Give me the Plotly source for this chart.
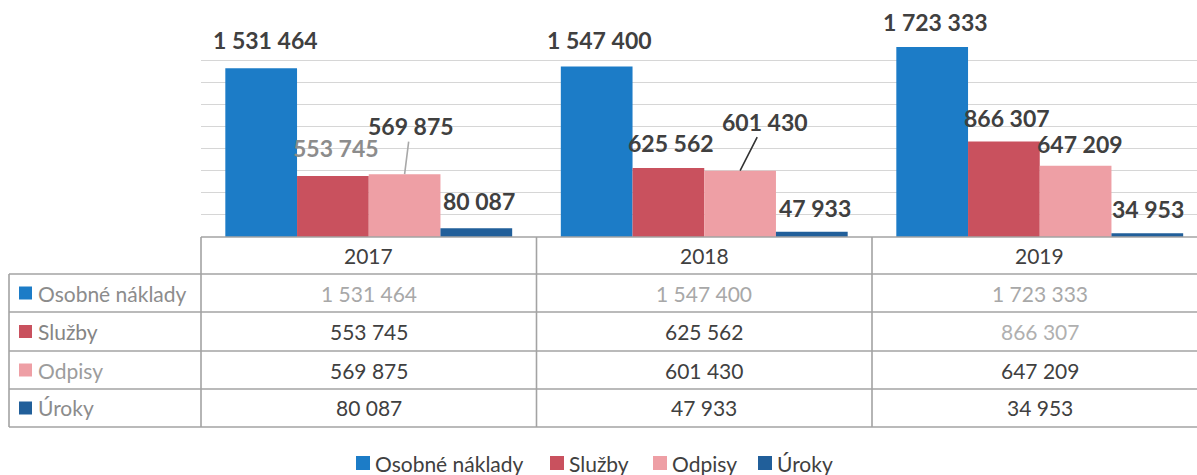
import plotly.graph_objects as go

# ---------------- data ----------------
years = ["2017", "2018", "2019"]
series = ["Osobné náklady", "Služby", "Odpisy", "Úroky"]
osobne = [1531464, 1547400, 1723333]
sluzby = [553745, 625562, 866307]
odpisy = [569875, 601430, 647209]
uroky = [80087, 47933, 34953]
values = [osobne, sluzby, odpisy, uroky]

# ---------------- styles ----------------
bar_colors = ["#1C7CC7", "#C9515E", "#EE9FA5", "#215F9A"]
label_font = "Lato"
# label offsets in pixels from bar top centre (dx, dy; dy<0 = above)
label_off = [
    [(4, -28), (3, -26), (3, -25)],
    [(3, -28), (3, -25), (3, -24)],
    [(6, -48), (25, -49), (4, -22)],
    [(3, -27), (3, -24), (1, -24)],
]
label_arrow = [
    [False, False, False],
    [False, False, False],
    [True, True, False],
    [False, False, False],
]
arrow_colors = [[None] * 3, [None] * 3, ["#A8A8A8", "#333333", None], [None] * 3]
label_colors = [
    ["#404040"] * 3,
    ["#8C8C8C", "#404040", "#404040"],
    ["#404040"] * 3,
    ["#404040"] * 3,
]
table_colors = [
    ["#A8A8A8"] * 3,
    ["#404040", "#404040", "#B0B0B0"],
    ["#404040"] * 3,
    ["#404040"] * 3,
]
rowlabel_colors = ["#8C8C8C", "#858585", "#9C9C9C", "#8C8C8C"]

W, H = 1197, 475
PL, PW, PH = 201, 996, 237        # plot area (px)
CAT_PX = 335.5
BARGAP = 0.145
XMIN = -0.5
XMAX = XMIN + PW / CAT_PX
YMAX = 2150000


def fmt(v):
    return f"{v:,}".replace(",", " ")


def pxx(x):
    return (x - PL) / PW


def pxy(y):
    return (PH - y) / PH


def cat_paper(c):
    return (c - XMIN) / (XMAX - XMIN)


fig = go.Figure()
cats = list(range(len(years)))
for s, name in enumerate(series):
    fig.add_trace(go.Bar(
        x=cats, y=values[s], name=name,
        marker=dict(color=bar_colors[s], line=dict(width=0)),
        showlegend=False,
    ))

annotations = []
shapes = []

# bar data labels
bw = (1 - BARGAP) / len(series)
for s in range(len(series)):
    for i in range(len(years)):
        xc = i + (s - (len(series) - 1) / 2) * bw
        dx, dy = label_off[s][i]
        common = dict(
            x=xc, y=values[s][i], xref="x", yref="y",
            text=fmt(values[s][i]),
            font=dict(family=label_font, size=23, color=label_colors[s][i], weight="bold"),
        )
        if label_arrow[s][i]:
            annotations.append(dict(
                **common, showarrow=True, ax=dx, ay=dy, arrowhead=0,
                arrowwidth=1.6, arrowcolor=arrow_colors[s][i], standoff=0,
            ))
        else:
            annotations.append(dict(
                **common, showarrow=False, xshift=dx, yshift=-dy,
                xanchor="center", yanchor="middle",
            ))

# ---------------- data table ----------------
row_edges = [237, 274, 312, 351, 389, 427]
LINE = dict(color="#A3A3A3", width=1.6)
left_px = 9
right_paper = pxx(W)
# horizontal lines
shapes.append(dict(type="line", xref="paper", yref="paper",
                   x0=cat_paper(-0.5), x1=right_paper, y0=pxy(row_edges[0]), y1=pxy(row_edges[0]),
                   line=LINE))
for ye in row_edges[1:]:
    shapes.append(dict(type="line", xref="paper", yref="paper",
                       x0=pxx(left_px), x1=right_paper, y0=pxy(ye), y1=pxy(ye), line=LINE))
# vertical lines
shapes.append(dict(type="line", xref="paper", yref="paper",
                   x0=pxx(left_px), x1=pxx(left_px), y0=pxy(row_edges[1]), y1=pxy(row_edges[-1]),
                   line=LINE))
for c in [-0.5 + k for k in range(len(years))]:
    shapes.append(dict(type="line", xref="paper", yref="paper",
                       x0=cat_paper(c), x1=cat_paper(c),
                       y0=pxy(row_edges[0]), y1=pxy(row_edges[-1]), line=LINE))

TFONT = dict(family="Lato", size=21)
# header
for i, yr in enumerate(years):
    annotations.append(dict(
        x=cat_paper(i), y=pxy((row_edges[0] + row_edges[1]) / 2), xref="paper", yref="paper",
        text=yr, showarrow=False, xanchor="center", yanchor="middle",
        font=dict(**TFONT, color="#404040")))
# rows
for s, name in enumerate(series):
    yc = (row_edges[s + 1] + row_edges[s + 2]) / 2
    shapes.append(dict(type="rect", xref="paper", yref="paper",
                       x0=pxx(19), x1=pxx(32), y0=pxy(yc - 6.5), y1=pxy(yc + 6.5),
                       fillcolor=bar_colors[s], line=dict(width=0)))
    annotations.append(dict(
        x=pxx(36), y=pxy(yc), xref="paper", yref="paper", text=name,
        showarrow=False, xanchor="left", yanchor="middle",
        font=dict(**TFONT, color=rowlabel_colors[s])))
    for i in range(len(years)):
        annotations.append(dict(
            x=cat_paper(i), y=pxy(yc), xref="paper", yref="paper",
            text=fmt(values[s][i]), showarrow=False, xanchor="center", yanchor="middle",
            font=dict(**TFONT, color=table_colors[s][i])))

# ---------------- legend (bottom) ----------------
legend_sq_x = [356, 550, 653, 758]
LEG_Y = 463
for s, name in enumerate(series):
    x0 = legend_sq_x[s]
    shapes.append(dict(type="rect", xref="paper", yref="paper",
                       x0=pxx(x0), x1=pxx(x0 + 14), y0=pxy(LEG_Y - 7), y1=pxy(LEG_Y + 7),
                       fillcolor=bar_colors[s], line=dict(width=0)))
    annotations.append(dict(
        x=pxx(x0 + 17), y=pxy(LEG_Y), xref="paper", yref="paper", text=name,
        showarrow=False, xanchor="left", yanchor="middle",
        font=dict(**TFONT, color="#404040")))

fig.update_layout(
    width=W, height=H,
    margin=dict(l=PL, r=W - PL - PW, t=0, b=H - PH, pad=0),
    barmode="group", bargap=BARGAP, bargroupgap=0,
    plot_bgcolor="white", paper_bgcolor="white",
    xaxis=dict(range=[XMIN, XMAX], showgrid=False, zeroline=False,
               showticklabels=False, ticks="", showline=False),
    yaxis=dict(range=[0, YMAX], tickvals=list(range(0, 1600001, 200000)),
               showticklabels=False, ticks="", gridcolor="#D6D6D6", gridwidth=1,
               zeroline=False, showline=False),
    annotations=annotations, shapes=shapes,
    showlegend=False,
)

fig.write_html(
    "out.html",
    config={"displayModeBar": False},
    post_script="document.body.style.margin='0';document.body.style.overflow='hidden';",
)
